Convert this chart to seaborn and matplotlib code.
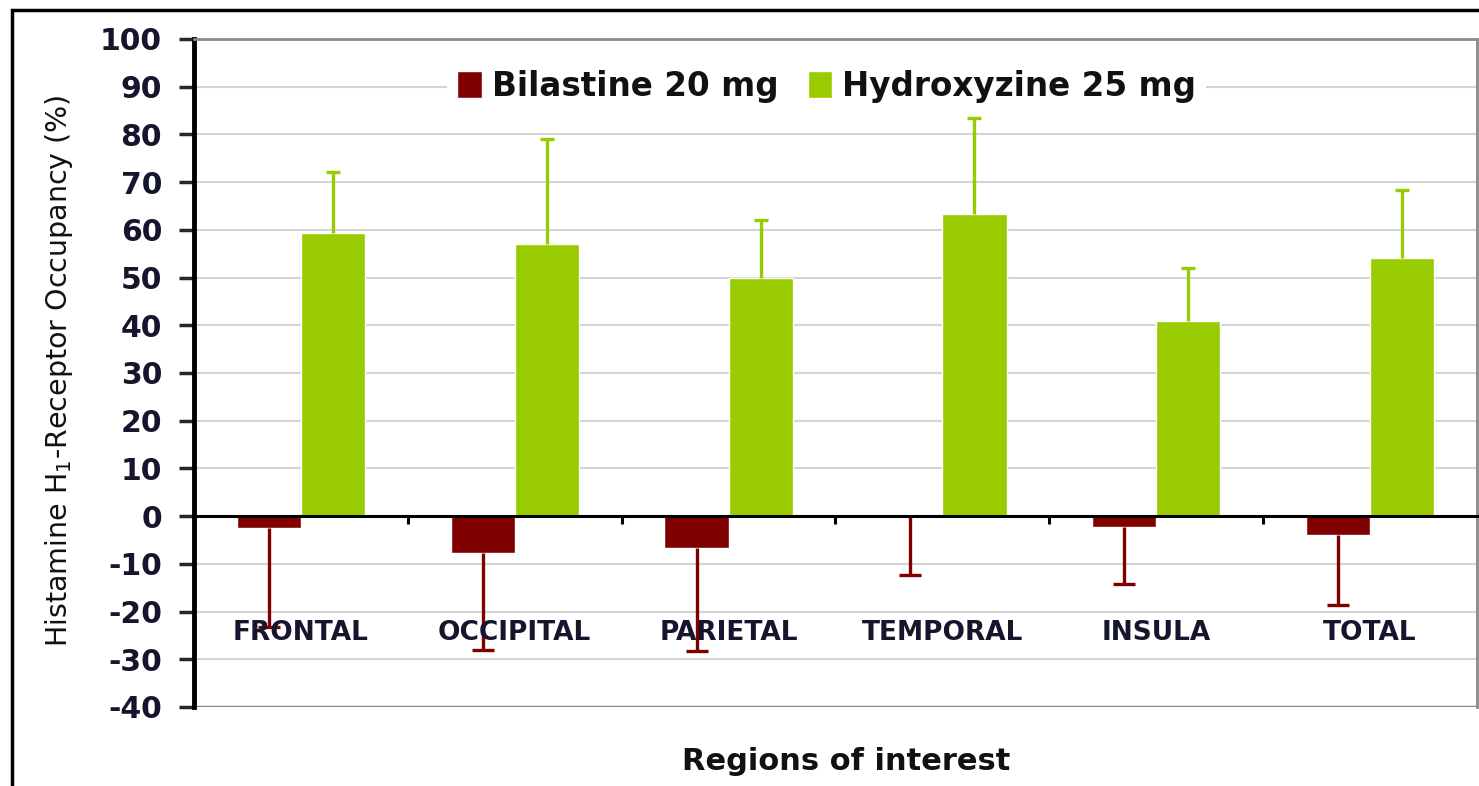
import numpy as np
import pandas as pd
import seaborn as sns
from matplotlib import pyplot as plt
from matplotlib.patches import Rectangle

# values
regions = ["FRONTAL", "OCCIPITAL", "PARIETAL", "TEMPORAL", "INSULA", "TOTAL"]
bilastine = [-2.5, -7.8, -6.7, 0.3, -2.3, -4.0]
bilastine_err = [20.8, 20.3, 21.6, 12.7, 12.0, 14.7]
hydroxyzine = [59.3, 57.1, 50.0, 63.4, 41.0, 54.2]
hydroxyzine_err = [12.8, 21.9, 12.0, 20.0, 11.0, 14.1]
drugs = ["Bilastine 20 mg", "Hydroxyzine 25 mg"]
colors = ["#800000", "#99CC00"]
yticks = list(range(-40, 101, 10))

df = pd.DataFrame({
    "region": regions * 2,
    "drug": [drugs[0]] * 6 + [drugs[1]] * 6,
    "occupancy": bilastine + hydroxyzine,
})

sns.set_style("white")
plt.rcParams["font.family"] = ["DejaVu Sans"]
navy = "#15152e"

fig = plt.figure(figsize=(14.79, 7.86), dpi=100)
ax = fig.add_axes([194 / 1479, 1 - 707 / 786, 1283 / 1479, 668 / 786])

sns.barplot(data=df, x="region", y="occupancy", hue="drug", order=regions,
            hue_order=drugs, palette=colors, width=0.6, saturation=1,
            errorbar=None, ax=ax, zorder=3)

# one-sided error bars (red down, green up), cap only on the far end
for cont, vals, errs, col, cap, down in zip(ax.containers, [bilastine, hydroxyzine],
                                            [bilastine_err, hydroxyzine_err], colors,
                                            [8, 5], [True, False]):
    xs = [p.get_x() + p.get_width() / 2 for p in cont.patches]
    zeros = [0] * len(errs)
    yerr = [errs, zeros] if down else [zeros, errs]
    _, caps, _ = ax.errorbar(xs, vals, yerr=yerr, fmt="none", ecolor=col,
                             elinewidth=2.4, capsize=cap, capthick=2.4, zorder=4)
    # drop the cap that sits on the bar end
    caps[1 if down else 0].remove()

ax.set_ylim(-40, 100)
ax.set_xlim(-0.5, 5.5)
ax.set_yticks(yticks)
ax.set_yticklabels([str(t) for t in yticks], fontsize=21.5, fontweight="bold", color=navy)
ax.yaxis.grid(True, color="#d4d4d4", linewidth=1.5, zorder=0)
ax.set_axisbelow(True)

# spines: thick left, zero line as x-axis, grey frame
ax.spines["left"].set_linewidth(3.5)
ax.spines["left"].set_color("black")
ax.spines["bottom"].set_position(("data", 0))
ax.spines["bottom"].set_linewidth(2.2)
ax.spines["bottom"].set_color("black")
ax.spines["bottom"].set_zorder(5)
for s in ["top", "right"]:
    ax.spines[s].set_visible(True)
    ax.spines[s].set_color("#8a8a8a")
    ax.spines[s].set_linewidth(2)
ax.axhline(-40, color="#8a8a8a", linewidth=2.5, zorder=1)

ax.tick_params(axis="y", direction="out", length=11, width=2.5, pad=12, left=True)
ax.set_xticks([])
ax.set_xticks(np.arange(0.5, 5.5, 1), minor=True)
ax.tick_params(axis="x", which="minor", direction="out", length=6, width=2.2,
               bottom=True, color="black")
ax.set_xlabel("")

for i, r in enumerate(regions):
    ax.text(i, -24.5, r, ha="center", va="center", fontsize=19, fontweight="bold",
            color=navy, zorder=6)

ax.set_ylabel("Histamine H$_1$-Receptor Occupancy (%)", fontsize=20.5, color="#111111")
ax.yaxis.set_label_coords(-0.093, 0.504)
ax.text(0.508, -0.082, "Regions of interest", transform=ax.transAxes, ha="center",
        va="center", fontsize=22, fontweight="bold", color="#111111")

leg = ax.legend(ncol=2, loc="center", bbox_to_anchor=(0.493, 0.929), frameon=True,
                handlelength=0.75, handleheight=0.9, handletextpad=0.3,
                columnspacing=0.9, borderpad=0.3, prop={"size": 23.5, "weight": "bold"})
leg.get_frame().set_facecolor("white")
leg.get_frame().set_edgecolor("none")
leg.get_frame().set_alpha(1)
for t in leg.get_texts():
    t.set_color("#111111")

# outer frame of the figure
fig.patches.append(Rectangle((12 / 1479, -0.1), 1.2, 1.1 - 10 / 786, fill=False,
                             edgecolor="black", linewidth=2.5, transform=fig.transFigure))

fig.savefig("out.png", dpi=100)
